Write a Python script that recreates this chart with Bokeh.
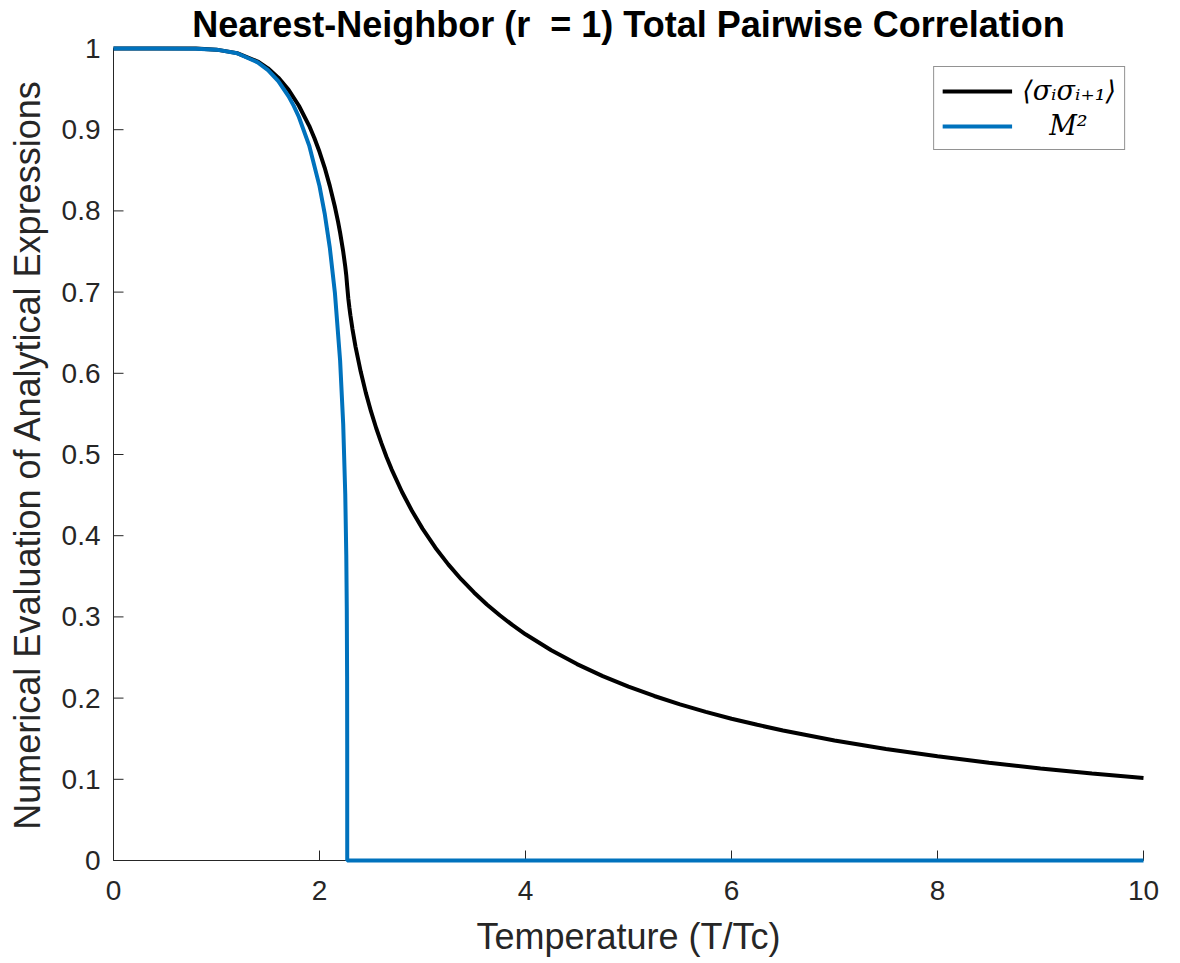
from bokeh.plotting import figure
from bokeh.models import Range1d, FixedTicker, Legend, LegendItem
from bokeh.embed import file_html
from bokeh.resources import INLINE

# Nearest-neighbour correlation <s_i s_i+1> versus temperature
temps_corr = [0.0, 0.4, 0.8, 1.0, 1.2, 1.4, 1.5, 1.6, 1.7, 1.8, 1.9, 1.95, 2.0,
              2.05, 2.1, 2.15, 2.18, 2.2, 2.23, 2.25, 2.26, 2.269, 2.28, 2.29,
              2.3, 2.32, 2.35, 2.4, 2.45, 2.5, 2.55, 2.6, 2.65, 2.7, 2.8, 2.9,
              3.0, 3.125, 3.25, 3.375, 3.5, 3.625, 3.75, 3.875, 4.0, 4.25, 4.5,
              4.75, 5.0, 5.25, 5.5, 5.75, 6.0, 6.25, 6.5, 7.0, 7.5, 8.0, 8.5,
              9.0, 9.5, 10.0]
corr_values = [1.0, 1.0, 0.9999, 0.9986, 0.9943, 0.9840, 0.9756, 0.9641, 0.9491,
               0.9295, 0.9048, 0.8898, 0.8728, 0.8534, 0.8308, 0.8047, 0.7867,
               0.7733, 0.7501, 0.7315, 0.7205, 0.7071, 0.6918, 0.6810, 0.6714,
               0.6545, 0.6326, 0.6021, 0.5759, 0.5530, 0.5326, 0.5143, 0.4973,
               0.4817, 0.4541, 0.4300, 0.4087, 0.3852, 0.3647, 0.3464, 0.3301,
               0.3153, 0.3020, 0.2898, 0.2786, 0.2589, 0.2419, 0.2271, 0.2141,
               0.2026, 0.1923, 0.1831, 0.1746, 0.1671, 0.1601, 0.1478, 0.1374,
               0.1283, 0.1204, 0.1134, 0.1072, 0.1017]

# Squared magnetisation M^2 versus temperature
temps_m2 = [0.0, 0.4, 0.8, 1.0, 1.2, 1.4, 1.5, 1.6, 1.7, 1.75, 1.8, 1.9, 2.0,
            2.05, 2.1, 2.15, 2.2, 2.23, 2.25, 2.26, 2.265, 2.268, 2.269, 2.2692,
            10.0]
m2_values = [1.0, 1.0, 0.9998, 0.9986, 0.9941, 0.9829, 0.9733, 0.9597, 0.9411,
             0.9293, 0.9156, 0.8804, 0.8305, 0.7971, 0.7548, 0.6985, 0.6159,
             0.5377, 0.4513, 0.3764, 0.3080, 0.2262, 0.1420, 0.0, 0.0]

x_ticks = [0, 2, 4, 6, 8, 10]
x_tick_labels = ["0", "2", "4", "6", "8", "10"]
y_ticks = [0.0, 0.1, 0.2, 0.3, 0.4, 0.5, 0.6, 0.7, 0.8, 0.9, 1.0]
y_tick_labels = ["0", "0.1", "0.2", "0.3", "0.4", "0.5", "0.6", "0.7", "0.8", "0.9", "1"]

X_MIN, X_MAX = 0, 10
Y_MIN, Y_MAX = 0, 1

AX = "#262626"
FONT = "Liberation Sans"

# data box is 1030 x 813 px; keep 3 px of slack on every side so the thick
# curves lying on the limits are not cut by the frame
FRAME_W, FRAME_H, SLACK = 1030, 813, 3
x_pad = SLACK * (X_MAX - X_MIN) / FRAME_W
y_pad = SLACK * (Y_MAX - Y_MIN) / FRAME_H
x_px = (X_MAX - X_MIN) / FRAME_W   # data units per pixel
y_px = (Y_MAX - Y_MIN) / FRAME_H
TICK_LEN = 10

p = figure(width=1180, height=963, output_backend="svg", toolbar_location=None,
           x_range=Range1d(X_MIN - x_pad, X_MAX + x_pad),
           y_range=Range1d(Y_MIN - y_pad, Y_MAX + y_pad),
           min_border_left=113 - SLACK, min_border_right=37 - SLACK,
           min_border_top=47 - SLACK, min_border_bottom=103 - SLACK,
           title="Nearest-Neighbor (r\u00a0 = 1) Total Pairwise Correlation")

p.title.text_font = FONT
p.title.text_font_size = "36px"
p.title.text_font_style = "bold"
p.title.text_color = "#000000"
p.title.align = "center"
p.title.standoff = 2

p.outline_line_color = None
p.xgrid.visible = False
p.ygrid.visible = False
p.background_fill_color = "white"
p.border_fill_color = "white"

# axis lines at the data limits, ticks pointing inwards
p.segment(x0=[X_MIN, X_MIN], y0=[Y_MIN, Y_MIN], x1=[X_MAX, X_MIN], y1=[Y_MIN, Y_MAX],
          line_color=AX, line_width=1)
p.segment(x0=x_ticks, y0=[Y_MIN] * len(x_ticks), x1=x_ticks,
          y1=[Y_MIN + TICK_LEN * y_px] * len(x_ticks), line_color=AX, line_width=1)
p.segment(x0=[X_MIN] * len(y_ticks), y0=y_ticks,
          x1=[X_MIN + TICK_LEN * x_px] * len(y_ticks), y1=y_ticks,
          line_color=AX, line_width=1)

r_corr = p.line(temps_corr, corr_values, line_color="#000000", line_width=4)
r_m2 = p.line(temps_m2, m2_values, line_color="#0072BD", line_width=4)

p.xaxis.ticker = FixedTicker(ticks=x_ticks)
p.xaxis.major_label_overrides = dict(zip(x_ticks, x_tick_labels))
p.yaxis.ticker = FixedTicker(ticks=y_ticks)
p.yaxis.major_label_overrides = dict(zip(y_ticks, y_tick_labels))

for ax in (p.xaxis[0], p.yaxis[0]):
    ax.axis_line_color = None
    ax.major_tick_line_color = None
    ax.major_tick_in = 0
    ax.major_tick_out = 0
    ax.minor_tick_line_color = None
    ax.major_label_text_font = FONT
    ax.major_label_text_font_size = "28px"
    ax.major_label_text_color = AX
    ax.axis_label_text_font = FONT
    ax.axis_label_text_font_size = "36px"
    ax.axis_label_text_font_style = "normal"
    ax.axis_label_text_color = AX

p.xaxis.axis_label = "Temperature (T/Tc)"
p.yaxis.axis_label = "Numerical Evaluation of Analytical Expressions"
p.xaxis.major_label_standoff = 17
p.yaxis.major_label_standoff = 10
p.xaxis.axis_label_standoff = 13
p.yaxis.axis_label_standoff = 11

legend = Legend(items=[
    LegendItem(label="⟨σᵢσᵢ₊₁⟩", renderers=[r_corr]),
    LegendItem(label="\u2002\u2002M²", renderers=[r_m2]),
], location="top_right")
legend.margin = 21
legend.padding = 8
legend.spacing = 4
legend.glyph_width = 70
legend.glyph_height = 26
legend.label_height = 26
legend.label_standoff = 10
legend.label_text_font = "DejaVu Serif"
legend.label_text_font_style = "italic"
legend.label_text_font_size = "27px"
legend.label_text_color = "#000000"
legend.border_line_color = AX
legend.border_line_width = 1
legend.background_fill_color = "white"
legend.background_fill_alpha = 1.0
p.add_layout(legend, "center")

open("out.html", "w").write(file_html(p, INLINE))
